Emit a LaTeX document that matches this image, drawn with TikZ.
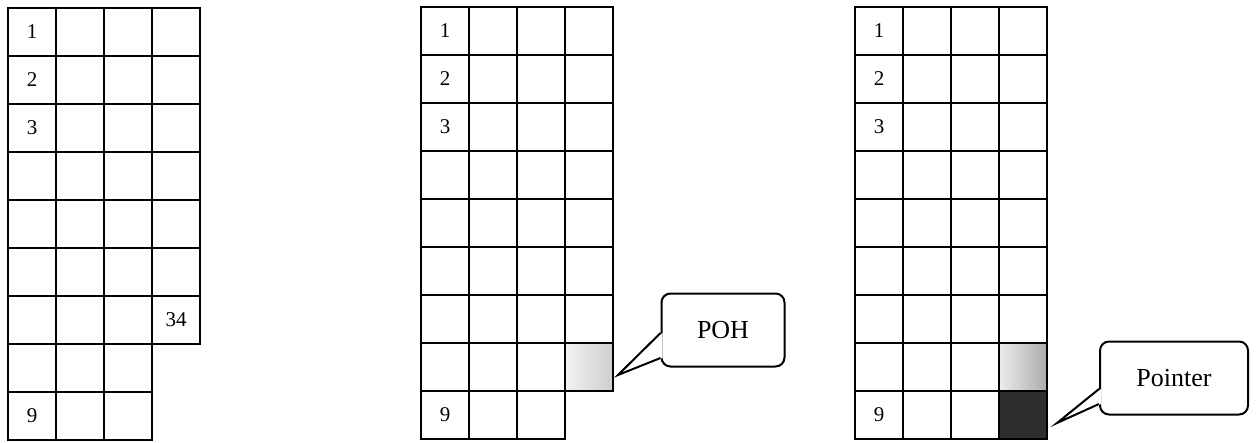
\documentclass[tikz,border=0pt]{standalone}
\usepackage{fontspec}
\setmainfont{Liberation Serif}
\usetikzlibrary{calc,positioning}

\begin{document}
\begin{tikzpicture}[x=1pt,y=-1pt,line width=2pt,
  num/.style={font=\fontsize{21}{21}\selectfont},
  callbox/.style={draw,rounded corners=9pt,minimum height=73pt,font=\fontsize{26}{26}\selectfont}]
  \useasboundingbox (0,0) rectangle (1257,442);

  % first table
  \begin{scope}[shift={(8,8)}]
    \foreach \r in {0,...,6}
      \foreach \c in {0,...,3}
        \draw (48*\c,48*\r) rectangle ++(48,48);
    \foreach \r in {7,8}
      \foreach \c in {0,...,2}
        \draw (48*\c,48*\r) rectangle ++(48,48);
    \node[num] (a1) at (24,24) {1};
    \node[num] (a2) at (24,72) {2};
    \node[num] (a3) at (24,120) {3};
    \node[num] (a34) at (168,312) {34};
    \node[num] (a9) at (24,408) {9};
  \end{scope}

  % second table
  \begin{scope}[shift={(421,7)}]
    \shade[left color=gray!10,right color=gray!38] (144,336) rectangle ++(48,48);
    \foreach \r in {0,...,7}
      \foreach \c in {0,...,3}
        \draw (48*\c,48*\r) rectangle ++(48,48);
    \foreach \c in {0,...,2}
      \draw (48*\c,384) rectangle ++(48,48);
    \node[num] (b1) at (24,24) {1};
    \node[num] (b2) at (24,72) {2};
    \node[num] (b3) at (24,120) {3};
    \node[num] (b9) at (24,408) {9};
  \end{scope}

  % third table
  \begin{scope}[shift={(855,7)}]
    \shade[left color=gray!15,right color=gray!65] (144,336) rectangle ++(48,48);
    \fill[black!82] (144,384) rectangle ++(48,48);
    \foreach \r in {0,...,8}
      \foreach \c in {0,...,3}
        \draw (48*\c,48*\r) rectangle ++(48,48);
    \node[num] (c1) at (24,24) {1};
    \node[num] (c2) at (24,72) {2};
    \node[num] (c3) at (24,120) {3};
    \node[num] (c9) at (24,408) {9};
  \end{scope}

  % callouts
  \node[callbox,minimum width=123pt] (poh) at (723,330) {POH};
  \coordinate (pohtip) at (618,375);
  \fill[white] ($(poh.west)+(2,3)$) -- (pohtip) -- ($(poh.west)+(2,28)$) -- cycle;
  \draw ($(poh.west)+(0,3)$) -- (pohtip) -- ($(poh.west)+(0,28)$);

  \node[callbox,minimum width=148pt] (ptr) at (1174,378) {Pointer};
  \coordinate (ptrtip) at (1057,423);
  \fill[white] ($(ptr.west)+(2,11)$) -- (ptrtip) -- ($(ptr.west)+(2,26)$) -- cycle;
  \draw ($(ptr.west)+(0,11)$) -- (ptrtip) -- ($(ptr.west)+(0,26)$);
\end{tikzpicture}
\end{document}
